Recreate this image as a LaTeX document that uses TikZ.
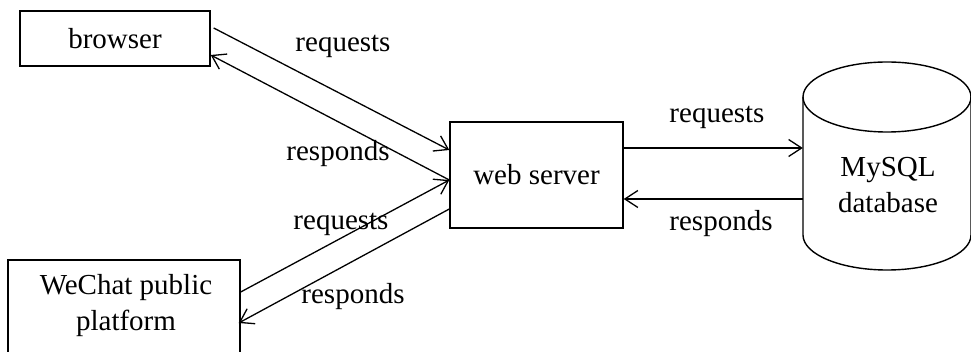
\documentclass[tikz,border=0pt]{standalone}
\usepackage{fontspec}
\setmainfont{Liberation Serif}
\usetikzlibrary{arrows.meta}
\begin{document}
\begin{tikzpicture}[x=1pt,y=-1pt,
  box/.style={draw,line width=1.4pt,inner sep=0pt,font=\fontsize{29}{36}\selectfont,align=center},
  lbl/.style={font=\fontsize{29}{36}\selectfont,inner sep=0pt},
  arr/.style={line width=1.3pt,-{Straight Barb[length=13pt,width=17pt,line width=1.3pt]}}]
\useasboundingbox (0,0) rectangle (971,352);
% boxes
\node[box,minimum width=190pt,minimum height=55pt] (browser) at (115,38.5) {browser};
\node[box,minimum width=173pt,minimum height=106pt] (ws) at (536.5,175) {web server};
\node[box,minimum width=232pt,minimum height=96pt] (wechat) at (124,308) {};
\node[lbl,align=center] (wtext) at (126,306) {WeChat public\\platform};
% database cylinder
\node[minimum width=168pt,minimum height=208pt,inner sep=0pt] (db) at (887,166) {};
\draw[line width=1.4pt] (803,97) arc[start angle=180,end angle=-180,x radius=84,y radius=35];
\draw[line width=1.4pt] (803,97) -- (803,235) arc[start angle=180,end angle=360,x radius=84,y radius=-35] -- (971,97);
\node[lbl,align=center] (dbtext) at (888,185) {MySQL\\database};
% connectors browser
\draw[arr] ([xshift=3pt,yshift=10.5pt]browser.east) -- ([yshift=25pt]ws.west);
\draw[arr] ([yshift=-5pt]ws.west) -- ([yshift=-16.5pt]browser.east);
% connectors wechat
\draw[arr] ([yshift=16pt]wechat.east) -- ([yshift=-5pt]ws.west);
\draw[arr] ([yshift=-34pt]ws.west) -- ([xshift=-2pt,yshift=-15pt]wechat.east);
% connectors db
\draw[arr] ([yshift=27pt]ws.east) -- ([yshift=27pt]ws.east -| db.west);
\draw[arr] ([yshift=-24pt]ws.east -| db.west) -- ([yshift=-24pt]ws.east);
% labels
\node[lbl] (r1) at (343,46) {requests};
\node[lbl] (s1) at (338,154) {responds};
\node[lbl] (r2) at (341,224) {requests};
\node[lbl] (s2) at (353,297) {responds};
\node[lbl] (r3) at (717,117) {requests};
\node[lbl] (s3) at (721,224) {responds};
\end{tikzpicture}
\end{document}
